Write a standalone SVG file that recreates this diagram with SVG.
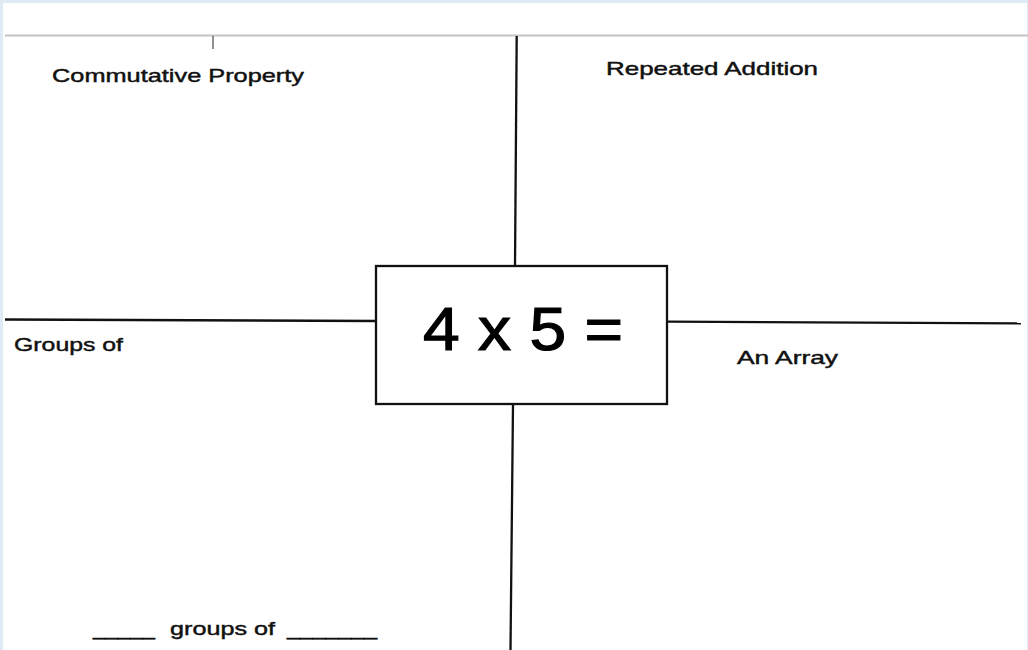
<svg xmlns="http://www.w3.org/2000/svg" width="1028" height="650" viewBox="0 0 1028 650">
  <style>
    .lbl { font-family: "Liberation Sans", "DejaVu Sans", sans-serif; font-size: 19px; fill: #111; stroke: #111; stroke-width: 0.45; }
    .ln { stroke: #111; stroke-width: 2.3; fill: none; }
  </style>
  <rect x="0" y="0" width="1028" height="650" fill="#dfeaf5"/>
  <rect x="3" y="3" width="1024" height="647" fill="#ffffff"/>
  <line x1="5" y1="35.5" x2="1028" y2="35.5" stroke="#c4c4c4" stroke-width="2"/>
  <line x1="213" y1="36" x2="213" y2="49" stroke="#222" stroke-width="1"/>

  <g id="connectors">
    <line class="ln" x1="516.7" y1="36" x2="515" y2="266"/>
    <line class="ln" x1="513" y1="404" x2="510.5" y2="650"/>
    <line class="ln" x1="5" y1="319.5" x2="376" y2="321"/>
    <line class="ln" x1="667" y1="321.7" x2="1021" y2="323.3"/>
  </g>

  <g id="center">
    <rect x="376" y="266" width="291" height="138" fill="#fff" stroke="#111" stroke-width="2.3"/>
    <text x="423" y="350" textLength="200" lengthAdjust="spacingAndGlyphs" style="font-family:'Liberation Sans','DejaVu Sans',sans-serif;font-size:62px;fill:#000;stroke:#000;stroke-width:1.2">4 x 5 =</text>
  </g>

  <g id="commutative">
    <text class="lbl" x="52" y="82" textLength="252" lengthAdjust="spacingAndGlyphs">Commutative Property</text>
  </g>
  <g id="repeated">
    <text class="lbl" x="606" y="75" textLength="212" lengthAdjust="spacingAndGlyphs">Repeated Addition</text>
  </g>
  <g id="groups">
    <text class="lbl" x="14" y="351" textLength="109" lengthAdjust="spacingAndGlyphs">Groups of</text>
  </g>
  <g id="array">
    <text class="lbl" x="737" y="364" textLength="101" lengthAdjust="spacingAndGlyphs">An Array</text>
  </g>
  <g id="groups-blank">
    <text class="lbl" y="635"><tspan x="93" textLength="62" lengthAdjust="spacingAndGlyphs">_____</tspan><tspan x="170" textLength="105" lengthAdjust="spacingAndGlyphs">groups of</tspan><tspan x="287" textLength="90" lengthAdjust="spacingAndGlyphs">_______</tspan></text>
  </g>
</svg>
